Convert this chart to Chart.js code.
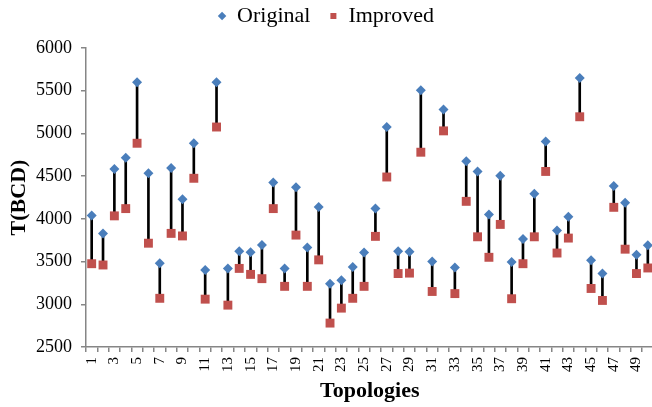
<!DOCTYPE html>
<html>
<head>
<meta charset="utf-8">
<script src="https://cdn.jsdelivr.net/npm/chart.js@4/dist/chart.umd.min.js"></script>
<style>
  html, body { margin: 0; padding: 0; background: #ffffff; }
  #wrap { width: 652px; height: 407px; }
</style>
</head>
<body>
<div id="wrap"><canvas id="c" width="652" height="407"></canvas></div>
<script>
const categories = ['1','2','3','4','5','6','7','8','9','10','11','12','13','14','15','16','17','18','19','20','21','22','23','24','25','26','27','28','29','30','31','32','33','34','35','36','37','38','39','40','41','42','43','44','45','46','47','48','49','50'];
const original = [4040,3830,4585,4715,5600,4535,3480,4595,4230,4885,3400,5600,3420,3620,3610,3695,4425,3420,4370,3665,4140,3240,3280,3435,3605,4120,5075,3620,3615,5505,3500,5280,3430,4675,4555,4050,4505,3495,3765,4295,4905,3865,4025,5650,3515,3360,4385,4190,3580,3690];
const improved = [3475,3460,4035,4120,4885,3715,3070,3830,3800,4475,3060,5075,2990,3420,3350,3300,4120,3210,3810,3210,3520,2780,2955,3070,3210,3795,4490,3360,3365,4780,3150,5030,3125,4205,3790,3550,3935,3065,3475,3790,4555,3600,3775,5195,3185,3045,4135,3645,3360,3425];
const yTicks = [2500,3000,3500,4000,4500,5000,5500,6000];

const seriesNames = ['Original', 'Improved'];
const axisGray = '#868686';
const serif = "'Liberation Serif', 'Times New Roman', serif";

const ranges = original.map((o, i) => [improved[i], o]);

// let the category axis run to the right edge of the canvas, as in the reference
const stretchX = {
  id: 'stretchX',
  afterLayout(chart) {
    const xs = chart.scales.x;
    const newRight = chart.width + 1.5;
    xs.right = newRight;
    xs.width = newRight - xs.left;
    chart.chartArea.right = newRight;
    chart.chartArea.width = newRight - chart.chartArea.left;
    xs.configure();
  }
};

const chart = new Chart(document.getElementById('c'), {
  type: 'line',
  data: {
    labels: categories,
    datasets: [
      {
        label: seriesNames[0],
        data: original,
        showLine: false,
        pointStyle: 'rectRot',
        pointRadius: 5,
        pointHoverRadius: 5,
        backgroundColor: '#4A7EBB',
        borderColor: '#4A7EBB',
        borderWidth: 0,
        clip: false,
        order: 0
      },
      {
        label: seriesNames[1],
        data: improved,
        showLine: false,
        pointStyle: 'rect',
        pointRadius: 6.3,
        pointHoverRadius: 6.3,
        backgroundColor: '#C0504D',
        borderColor: '#C0504D',
        borderWidth: 0,
        clip: false,
        order: 1
      },
      {
        type: 'bar',
        label: 'range',
        data: ranges,
        backgroundColor: '#000000',
        borderWidth: 0,
        barThickness: 2,
        order: 2
      }
    ]
  },
  plugins: [stretchX],
  options: {
    responsive: false,
    animation: false,
    layout: { padding: { top: -14, right: 0, bottom: 0, left: 0 } },
    plugins: {
      tooltip: { enabled: false },
      legend: {
        position: 'top',
        labels: {
          usePointStyle: true,
          boxWidth: 8,
          boxHeight: 6,
          padding: 19,
          color: '#000000',
          font: { family: serif, size: 22 },
          filter: (item) => item.datasetIndex !== 2
        }
      }
    },
    scales: {
      x: {
        type: 'category',
        offset: true,
        grid: {
          offset: true,
          drawOnChartArea: false,
          drawTicks: true,
          tickLength: 5,
          color: axisGray,
          lineWidth: 1.5
        },
        border: { color: axisGray, width: 1.5 },
        ticks: {
          autoSkip: false,
          maxRotation: 90,
          minRotation: 90,
          padding: 5,
          color: '#000000',
          font: { family: serif, size: 15 },
          callback: function (val, idx) { return idx % 2 === 0 ? categories[idx] : ''; }
        },
        title: {
          display: true,
          text: 'Topologies',
          color: '#000000',
          font: { family: serif, size: 22, weight: 'bold' },
          padding: { top: 2, bottom: 2 }
        },
        afterFit: (scale) => {
          scale.height = 60;
          scale.paddingLeft = 0;
          scale.paddingRight = 0;
        }
      },
      y: {
        min: 2500,
        max: 6000,
        afterBuildTicks: (scale) => { scale.ticks = yTicks.map(v => ({ value: v })); },
        grid: {
          drawOnChartArea: false,
          drawTicks: true,
          tickLength: 5,
          color: axisGray,
          lineWidth: 1.5
        },
        border: { color: axisGray, width: 1.5 },
        ticks: {
          padding: 9,
          color: '#000000',
          font: { family: serif, size: 18 },
          callback: (v) => String(v)
        },
        title: {
          display: true,
          text: 'T(BCD)',
          color: '#000000',
          font: { family: serif, size: 22, weight: 'bold' },
          padding: { top: 6, bottom: 4 }
        },
        afterFit: (scale) => { scale.width = 86; }
      }
    }
  }
});

// add extra space beneath the legend row so the plot starts lower
const lg = chart.legend;
const legendProto = Object.getPrototypeOf(lg);
lg.fit = function () { legendProto.fit.call(this); this.height += 11; };
chart.update();
</script>
</body>
</html>
